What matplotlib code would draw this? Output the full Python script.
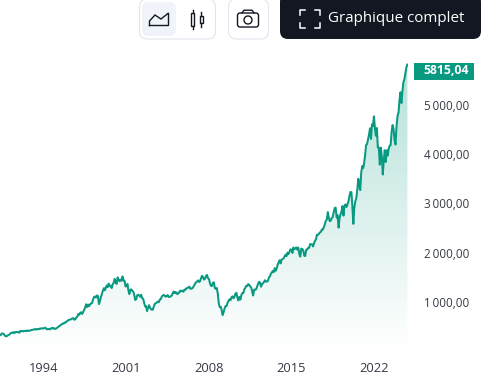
import numpy as np
import pandas as pd
import matplotlib
matplotlib.use("Agg")
import matplotlib.pyplot as plt
from matplotlib.patches import FancyBboxPatch, Rectangle, Polygon, Circle

W, H = 500, 390
values = [
 330,361,358,356,322,306,304,322,330,
 343,367,375,375,390,371,387,395,387,392,375,417,
 408,412,403,414,415,408,424,414,418,419,431,436,
 439,443,452,440,450,451,448,464,459,468,462,466,
 481,467,445,451,457,444,458,475,463,472,454,459,
 470,487,500,515,533,545,562,562,584,582,605,616,
 636,640,645,654,669,671,640,652,687,705,757,741,
 786,791,757,801,848,885,954,899,947,915,955,970,
 980,1049,1101,1112,1090,1134,1120,957,1017,1099,1164,1229,
 1280,1238,1286,1335,1302,1373,1329,1320,1283,1363,1389,1469,
 1394,1366,1499,1452,1421,1455,1431,1518,1437,1429,1315,1320,
 1366,1240,1160,1249,1256,1224,1211,1134,1041,1060,1139,1148,
 1130,1107,1147,1077,1067,990,912,916,815,886,936,880,
 856,841,849,917,964,975,990,1008,996,1051,1058,1112,
 1131,1145,1126,1107,1121,1141,1102,1104,1115,1130,1174,1212,
 1181,1204,1181,1157,1192,1191,1234,1220,1229,1207,1249,1248,
 1280,1281,1295,1311,1270,1270,1277,1304,1336,1378,1401,1418,
 1438,1407,1421,1482,1531,1503,1455,1474,1527,1549,1481,1468,
 1379,1331,1323,1386,1400,1280,1267,1283,1165,969,896,903,
 826,735,798,873,919,919,987,1021,1057,1036,1096,1115,
 1074,1104,1169,1187,1089,1031,1102,1049,1141,1183,1181,1258,
 1286,1327,1326,1364,1345,1321,1292,1219,1131,1253,1247,1258,
 1312,1366,1408,1398,1310,1362,1379,1407,1441,1412,1416,1426,
 1498,1515,1569,1597,1631,1606,1686,1633,1682,1757,1806,1848,
 1783,1859,1872,1884,1924,1960,1931,2003,1972,2018,2068,2059,
 1995,2105,2068,2086,2107,2063,2104,1972,1920,2079,2080,2044,
 1940,1932,2060,2065,2097,2099,2174,2171,2168,2126,2199,2239,
 2279,2364,2363,2384,2412,2423,2470,2472,2519,2575,2648,2674,
 2824,2714,2641,2648,2705,2718,2816,2902,2914,2712,2760,2507,
 2704,2784,2834,2946,2752,2942,2980,2926,2977,3038,3141,3231,
 3226,2954,2585,2912,3044,3100,3271,3500,3363,3270,3622,3756,
 3714,3811,3973,4181,4204,4298,4395,4523,4308,4605,4567,4766,
 4516,4374,4530,4132,4132,3785,4130,3955,3586,3872,4080,3840,
 4077,3970,4109,4169,4180,4450,4589,4508,4288,4194,4568,4770,
 4846,5096,5254,5036,5278,5460,5522,5648,5762,5815.04,
]
x_years = [1994, 2001, 2008, 2015, 2022]
y_ticks = [1000, 2000, 3000, 4000, 5000]
y_labels = ["1\u2009000,00", "2\u2009000,00", "3\u2009000,00", "4\u2009000,00", "5\u2009000,00"]
last_label = "5815,04"
button_text = "Graphique complet"

GREEN = "#089981"
DARK = "#131722"
TXT = "#363a45"
FONT = "Open Sans"
plt.rcParams["font.family"] = [FONT, "DejaVu Sans"]

dates = pd.date_range("1990-04-30", periods=len(values), freq="ME")
t = dates.year + (dates.dayofyear - 1) / 365.25
v = np.array(values, float)

fig = plt.figure(figsize=(W / 100, H / 100), dpi=100, facecolor="white")

# plot area in pixels
L, R, T, B = 0, 408, 40, 351.3
PX_PER_VALUE = 0.0493
ax = fig.add_axes([L / W, 1 - B / H, (R - L) / W, (B - T) / H])
px_per_year = 330 / 28
x0 = 1994 - 44 / px_per_year
xlim = (x0, x0 + (R - L) / px_per_year)
ylim = (0, (B - T) / PX_PER_VALUE)

grad = np.zeros((256, 2, 4))
grad[..., :3] = matplotlib.colors.to_rgb(GREEN)
grad[..., 3] = np.linspace(0.30, 0.0, 256)[:, None]
im = ax.imshow(grad, extent=[*xlim, 0, v.max()], origin="upper",
               aspect="auto", zorder=1, interpolation="bilinear")
poly = Polygon(np.column_stack([np.r_[t[0], t, t[-1]], np.r_[0, v, 0]]),
               closed=True, transform=ax.transData, fc="none", ec="none")
ax.add_patch(poly)
im.set_clip_path(poly)
ax.set_xlim(*xlim)
ax.set_ylim(*ylim)

ax.plot(t, v, color=GREEN, lw=1.45, solid_joinstyle="round", zorder=3)

for s in ax.spines.values():
    s.set_visible(False)
ax.patch.set_alpha(0)
ax.set_xticks(x_years)
ax.set_xticklabels([str(y) for y in x_years], fontsize=9.3, color=TXT)
ax.yaxis.tick_right()
ax.set_yticks(y_ticks)
ax.set_yticklabels(y_labels, fontsize=8.35, color=TXT)
ax.tick_params(axis="both", length=0)
ax.tick_params(axis="x", pad=7.5)
ax.tick_params(axis="y", pad=11.5)

# chrome overlay in pixel coordinates
ui = fig.add_axes([0, 0, 1, 1], facecolor="none")
ui.set_xlim(0, W)
ui.set_ylim(H, 0)
ui.axis("off")

def rbox(x, y, w, h, r, fc, ec="none", lw=1):
    ui.add_patch(FancyBboxPatch((x + r, y + r), w - 2 * r, h - 2 * r,
                                boxstyle=f"round,pad={r},rounding_size={r}",
                                fc=fc, ec=ec, lw=lw))

rbox(139.5, -1, 76, 40, 8, "white", "#E3E5EE", 0.8)
rbox(142, 2, 34, 34, 6, "#F0F3FA")
rbox(228.5, -1, 40, 40, 8, "white", "#E3E5EE", 0.8)
rbox(280, -6, 201, 45, 8, DARK)

# area icon
ui.plot([149.5, 149.5, 155, 161, 168.5, 168.5, 149.5], [25.5, 21, 15, 19, 13, 25.5, 25.5],
        color=DARK, lw=1.0, solid_joinstyle="miter")
# candle icon
ui.add_patch(Rectangle((191, 13), 3, 13, fc="white", ec=DARK, lw=1))
ui.plot([192.5, 192.5], [10, 13], color=DARK, lw=1)
ui.plot([192.5, 192.5], [26, 29], color=DARK, lw=1)
ui.add_patch(Rectangle((199.5, 16), 3, 7, fc="white", ec=DARK, lw=1))
ui.plot([201, 201], [12, 16], color=DARK, lw=1)
ui.plot([201, 201], [23, 27], color=DARK, lw=1)
# camera icon
rbox(237.5, 13, 21, 14, 2.5, "white", DARK, 1)
ui.plot([242, 244, 252, 254], [13, 10.2, 10.2, 13], color=DARK, lw=1)
ui.add_patch(Circle((248, 20), 4, fc="white", ec=DARK, lw=1))
# fullscreen icon
for xs, ys in [([300, 300, 305], [15, 10, 10]), ([315, 320, 320], [10, 10, 15]),
               ([300, 300, 305], [23, 28, 28]), ([315, 320, 320], [28, 28, 23])]:
    ui.plot(xs, ys, color="white", lw=1.1)
ui.text(328, 18.5, button_text, color="white", fontsize=10.9, va="center", ha="left")

# last value tag
ui.add_patch(Rectangle((414, 63), 60, 16.5, fc=GREEN, ec="none"))
ui.text(469, 71, last_label, color="white", fontsize=8.8, fontweight="bold",
        ha="right", va="center")

fig.savefig("out.png", dpi=100, facecolor="white")
